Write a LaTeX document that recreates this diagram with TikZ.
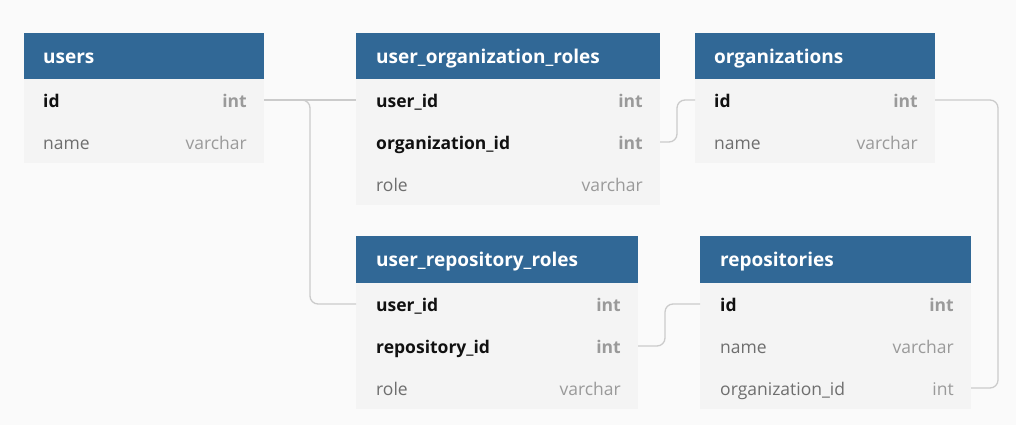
\documentclass[tikz,border=0pt]{standalone}
\usepackage{fontspec}
\setmainfont{Open Sans}
\definecolor{bg}{HTML}{FAFAFA}
\definecolor{hdr}{HTML}{316896}
\definecolor{bodyc}{HTML}{F4F4F4}
\definecolor{keyc}{HTML}{111111}
\definecolor{plainc}{HTML}{6E6E6E}
\definecolor{typec}{HTML}{9A9A9A}
\definecolor{linec}{HTML}{CBCBCB}
\begin{document}
\begin{tikzpicture}[x=1pt,y=-1pt,
  head/.style={rectangle, fill=hdr, minimum height=46.5pt, minimum width=#1, anchor=north west, inner sep=0pt, outer sep=0pt},
  rowbox/.style={rectangle, fill=bodyc, minimum height=42pt, minimum width=#1, anchor=north west, inner sep=0pt, outer sep=0pt},
  title/.style={anchor=mid west, inner sep=0pt, yshift=-4.5pt, text=white, font=\fontsize{19}{22}\selectfont\bfseries},
  keyname/.style={anchor=mid west, inner sep=0pt, yshift=-4.5pt, text=keyc, font=\fontsize{17.5}{20}\selectfont\bfseries},
  plainname/.style={anchor=mid west, inner sep=0pt, yshift=-4.5pt, text=plainc, font=\fontsize{17.5}{20}\selectfont},
  keytype/.style={anchor=mid east, inner sep=0pt, yshift=-4.5pt, text=typec, font=\fontsize{17.5}{20}\selectfont\bfseries},
  plaintype/.style={anchor=mid east, inner sep=0pt, yshift=-4.5pt, text=typec, font=\fontsize{17.5}{20}\selectfont},
  conn/.style={draw=linec, line width=1.3pt, rounded corners=8pt}
]
\useasboundingbox[fill=bg] (0,0) rectangle (1016,425);

% users
\node[head=240pt] (users) at (24,33) {};
\node[title] (users-t) at ([xshift=19pt]users.west) {users};
\node[rowbox=240pt] (users-id) at (24,79) {};
\node[rowbox=240pt] (users-name) at (24,121) {};
\node[keyname] (users-id-n) at ([xshift=19pt]users-id.west) {id};
\node[keytype] (users-id-t) at ([xshift=-17pt]users-id.east) {int};
\node[plainname] (users-name-n) at ([xshift=19pt]users-name.west) {name};
\node[plaintype] (users-name-t) at ([xshift=-17pt]users-name.east) {varchar};

% user_organization_roles
\node[head=304pt] (uor) at (356,33) {};
\node[title] (uor-t) at ([xshift=20pt]uor.west) {user\_organization\_roles};
\node[rowbox=304pt] (uor-userid) at (356,79) {};
\node[rowbox=304pt] (uor-orgid) at (356,121) {};
\node[rowbox=304pt] (uor-role) at (356,163) {};
\node[keyname] (uor-userid-n) at ([xshift=20pt]uor-userid.west) {user\_id};
\node[keytype] (uor-userid-t) at ([xshift=-17pt]uor-userid.east) {int};
\node[keyname] (uor-orgid-n) at ([xshift=20pt]uor-orgid.west) {organization\_id};
\node[keytype] (uor-orgid-t) at ([xshift=-17pt]uor-orgid.east) {int};
\node[plainname] (uor-role-n) at ([xshift=20pt]uor-role.west) {role};
\node[plaintype] (uor-role-t) at ([xshift=-17pt]uor-role.east) {varchar};

% organizations
\node[head=240pt] (org) at (695,33) {};
\node[title] (org-t) at ([xshift=19pt]org.west) {organizations};
\node[rowbox=240pt] (org-id) at (695,79) {};
\node[rowbox=240pt] (org-name) at (695,121) {};
\node[keyname] (org-id-n) at ([xshift=19pt]org-id.west) {id};
\node[keytype] (org-id-t) at ([xshift=-17pt]org-id.east) {int};
\node[plainname] (org-name-n) at ([xshift=19pt]org-name.west) {name};
\node[plaintype] (org-name-t) at ([xshift=-17pt]org-name.east) {varchar};

% user_repository_roles
\node[head=282pt] (urr) at (356,236) {};
\node[title] (urr-t) at ([xshift=20pt]urr.west) {user\_repository\_roles};
\node[rowbox=282pt] (urr-userid) at (356,283) {};
\node[rowbox=282pt] (urr-repoid) at (356,325) {};
\node[rowbox=282pt] (urr-role) at (356,367) {};
\node[keyname] (urr-userid-n) at ([xshift=20pt]urr-userid.west) {user\_id};
\node[keytype] (urr-userid-t) at ([xshift=-17pt]urr-userid.east) {int};
\node[keyname] (urr-repoid-n) at ([xshift=20pt]urr-repoid.west) {repository\_id};
\node[keytype] (urr-repoid-t) at ([xshift=-17pt]urr-repoid.east) {int};
\node[plainname] (urr-role-n) at ([xshift=20pt]urr-role.west) {role};
\node[plaintype] (urr-role-t) at ([xshift=-17pt]urr-role.east) {varchar};

% repositories
\node[head=271pt] (repo) at (700,236) {};
\node[title] (repo-t) at ([xshift=20pt]repo.west) {repositories};
\node[rowbox=271pt] (repo-id) at (700,283) {};
\node[rowbox=271pt] (repo-name) at (700,325) {};
\node[rowbox=271pt] (repo-orgid) at (700,367) {};
\node[keyname] (repo-id-n) at ([xshift=20pt]repo-id.west) {id};
\node[keytype] (repo-id-t) at ([xshift=-17pt]repo-id.east) {int};
\node[plainname] (repo-name-n) at ([xshift=20pt]repo-name.west) {name};
\node[plaintype] (repo-name-t) at ([xshift=-17pt]repo-name.east) {varchar};
\node[plainname] (repo-orgid-n) at ([xshift=20pt]repo-orgid.west) {organization\_id};
\node[plaintype] (repo-orgid-t) at ([xshift=-17pt]repo-orgid.east) {int};

% connectors
\draw[conn] (users-id.east) -- (uor-userid.west);
\draw[conn] (users-id.east) -- ++(46,0) |- (urr-userid.west);
\draw[conn] (uor-orgid.east) -- ++(17,0) |- (org-id.west);
\draw[conn] (org-id.east) -- ++(63,0) |- (repo-orgid.east);
\draw[conn] (urr-repoid.east) -- ++(27,0) |- (repo-id.west);
\end{tikzpicture}
\end{document}
